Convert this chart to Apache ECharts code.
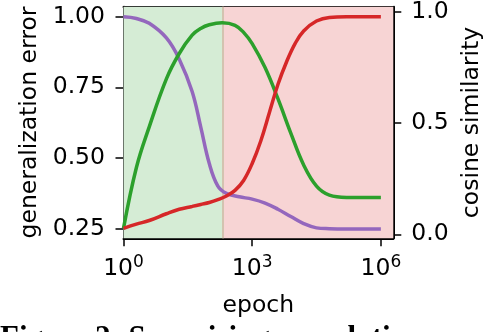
<!DOCTYPE html>
<html>
<head>
<meta charset="utf-8">
<script src="https://cdn.jsdelivr.net/npm/echarts@6/dist/echarts.min.js"></script>
<style>
  html, body { margin: 0; padding: 0; background: #fff; }
  #chart { width: 502px; height: 332px; }
</style>
</head>
<body>
<div id="chart"></div>
<script>
// epoch is on a log scale, so x values are log10(epoch)
const purpleX = [0, 0.3, 0.6, 1.0, 1.3, 1.6, 1.8, 2.0, 2.2, 2.4, 2.7, 3.0, 3.3, 3.6, 3.9, 4.2, 4.5, 4.8, 5.2, 6.0]
const purpleY = [1.00, 0.994, 0.977, 0.925, 0.85, 0.735, 0.61, 0.48, 0.40, 0.374, 0.362, 0.354, 0.34, 0.318, 0.292, 0.267, 0.252, 0.249, 0.248, 0.248]

const greenX = [0, 0.301, 0.6, 1.0, 1.3, 1.6, 1.8, 2.0, 2.3, 2.6, 2.8, 3.0, 3.3, 3.6, 3.9, 4.2, 4.5, 4.8, 5.2, 6.0]
const greenY = [0.25, 0.466, 0.61, 0.78, 0.87, 0.935, 0.959, 0.972, 0.979, 0.97, 0.945, 0.905, 0.82, 0.71, 0.588, 0.475, 0.40, 0.368, 0.36, 0.36]

const redX = [0, 0.3, 0.6, 1.0, 1.3, 1.6, 1.8, 2.0, 2.2, 2.4, 2.6, 2.8, 3.0, 3.2, 3.4, 3.6, 3.8, 4.0, 4.2, 4.5, 4.8, 5.2, 6.0]
const redY = [0.25, 0.265, 0.278, 0.302, 0.318, 0.328, 0.335, 0.342, 0.352, 0.365, 0.385, 0.42, 0.48, 0.56, 0.66, 0.76, 0.84, 0.905, 0.95, 0.985, 0.998, 1.0, 1.0]

// phase boundary (log10 epoch) and axis ticks
const boundary = 2.31
const xTicks = [0, 3, 6]
const leftTicks = [0.25, 0.5, 0.75, 1.0]
const rightTicks = [0, 0.5, 1.0]

const FONT = 'DejaVu Sans'
const pairs = (xs, ys) => xs.map((x, i) => [x, ys[i]])

const chart = echarts.init(document.getElementById('chart'), null, { renderer: 'canvas' })

const lineSeries = (name, xs, ys, color) => ({
  name,
  type: 'line',
  data: pairs(xs, ys),
  smooth: 0.4,
  showSymbol: false,
  symbol: 'none',
  z: 5,
  lineStyle: { color, width: 3.5 }
})

chart.setOption({
  animation: false,
  backgroundColor: '#fff',
  textStyle: { fontFamily: FONT },
  grid: { left: 123.5, right: 108.7, top: 4.7, bottom: 93.7, containLabel: false },
  xAxis: [{
    type: 'value',
    min: 0,
    max: 6.29,
    name: 'epoch',
    nameLocation: 'middle',
    nameGap: 56,
    nameTextStyle: { fontSize: 23.5, color: '#000', fontFamily: FONT },
    splitLine: { show: false },
    axisLine: { show: true, onZero: false, lineStyle: { color: '#000', width: 2 } },
    axisTick: { show: true, length: 8, customValues: xTicks, lineStyle: { color: '#000', width: 1.5 } },
    axisLabel: {
      customValues: xTicks,
      margin: 16,
      formatter: v => '{b|10}{s|' + v + '}',
      rich: {
        b: { fontSize: 23.5, color: '#000', fontFamily: FONT, lineHeight: 30 },
        s: { fontSize: 17, color: '#000', fontFamily: FONT, verticalAlign: 'top', lineHeight: 17 }
      }
    }
  }, {
    type: 'value',
    position: 'top',
    min: 0,
    max: 6.29,
    splitLine: { show: false },
    axisLine: { show: true, onZero: false, lineStyle: { color: '#000', width: 2 } },
    axisTick: { show: false },
    axisLabel: { show: false }
  }],
  yAxis: [{
    type: 'value',
    min: 0.215,
    max: 1.036,
    name: 'generalization error',
    nameLocation: 'middle',
    nameGap: 79,
    nameTextStyle: { fontSize: 23.5, color: '#000', fontFamily: FONT },
    splitLine: { show: false },
    axisLine: { show: true, onZero: false, lineStyle: { color: '#000', width: 2 } },
    axisTick: { show: true, length: 8, customValues: leftTicks, lineStyle: { color: '#000', width: 1.5 } },
    axisLabel: {
      customValues: leftTicks,
      margin: 18.5,
      fontSize: 23.5,
      color: '#000',
      fontFamily: FONT,
      formatter: v => v.toFixed(2)
    }
  }, {
    type: 'value',
    position: 'right',
    min: -0.018,
    max: 1.024,
    name: 'cosine similarity',
    nameLocation: 'middle',
    nameRotate: 90,
    nameGap: 65,
    nameTextStyle: { fontSize: 23.5, color: '#000', fontFamily: FONT },
    splitLine: { show: false },
    axisLine: { show: true, onZero: false, lineStyle: { color: '#000', width: 2 } },
    axisTick: { show: true, length: 8, customValues: rightTicks, lineStyle: { color: '#000', width: 1.5 } },
    axisLabel: {
      customValues: rightTicks,
      margin: 18,
      fontSize: 23.5,
      color: '#000',
      fontFamily: FONT,
      formatter: v => v.toFixed(1)
    }
  }],
  series: [
    {
      // shaded phases and their boundary
      type: 'line',
      data: [],
      z: 1,
      silent: true,
      markArea: {
        silent: true,
        data: [
          [{ xAxis: 0, itemStyle: { color: '#d5ecd5' } }, { xAxis: boundary }],
          [{ xAxis: boundary, itemStyle: { color: '#f7d4d4' } }, { xAxis: 6.29 }]
        ]
      },
      markLine: {
        silent: true,
        symbol: 'none',
        label: { show: false },
        lineStyle: { color: '#d3c3b0', width: 2, type: 'solid' },
        data: [{ xAxis: boundary }]
      }
    },
    lineSeries('purple', purpleX, purpleY, '#9467bd'),
    lineSeries('green', greenX, greenY, '#2ca02c'),
    lineSeries('red', redX, redY, '#d62728')
  ],
  graphic: [{
    // caption of the source figure, cut off by the bottom edge
    type: 'text',
    left: 0,
    top: 323,
    silent: true,
    style: {
      text: 'Figure 2: Surprising correlation',
      font: 'bold 31px "Liberation Serif"',
      fill: '#000'
    }
  }]
})
</script>
</body>
</html>
